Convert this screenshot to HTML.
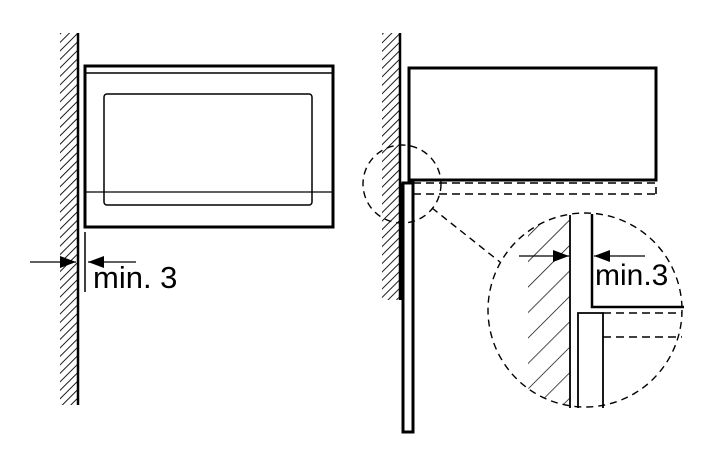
<!DOCTYPE html>
<html><head><meta charset="utf-8"><style>html,body{margin:0;padding:0;background:#fff}svg{display:block}</style></head>
<body>
<svg width="720" height="468" viewBox="0 0 720 468" xmlns="http://www.w3.org/2000/svg">
<defs>
<pattern id="h" width="6" height="6" patternUnits="userSpaceOnUse" patternTransform="rotate(45)">
<line x1="0" y1="0" x2="0" y2="6" stroke="#000" stroke-width="1.8"/>
</pattern>
<pattern id="h2" width="18" height="18" patternUnits="userSpaceOnUse" patternTransform="rotate(45)">
<line x1="0" y1="0" x2="0" y2="18" stroke="#000" stroke-width="1.4"/>
</pattern>
<marker id="b" markerWidth="16" markerHeight="12" refX="16" refY="6" orient="auto" markerUnits="userSpaceOnUse">
<path d="M0,0 L16,6 L0,12 z" fill="#000"/>
</marker>
<clipPath id="c"><circle cx="585" cy="310" r="97"/></clipPath>
</defs>
<g fill="none" stroke="#000">
<rect x="60" y="33" width="18" height="372" fill="url(#h)" stroke="none"/>
<line x1="78" y1="33" x2="78" y2="405" stroke-width="2.5"/>
<rect x="85" y="66" width="248" height="161" stroke-width="3"/>
<line x1="85" y1="73" x2="333" y2="73" stroke-width="1.5"/>
<rect x="104" y="94" width="208" height="111" rx="3" stroke-width="1.5"/>
<line x1="85" y1="192" x2="333" y2="192" stroke-width="1.2"/>
<line x1="85" y1="232" x2="85" y2="292" stroke-width="1.5"/>
<line x1="30" y1="262" x2="76" y2="262" stroke-width="1.3" marker-end="url(#b)"/>
<line x1="136" y1="262" x2="88" y2="262" stroke-width="1.3" marker-end="url(#b)"/>
<rect x="382" y="33" width="18" height="267" fill="url(#h)" stroke="none"/>
<line x1="400" y1="33" x2="400" y2="300" stroke-width="2.5"/>
<rect x="399" y="183" width="5" height="117" fill="#000" stroke="none"/>
<rect x="403" y="183" width="10" height="249" stroke-width="3" fill="#fff"/>
<rect x="409" y="68" width="247" height="112" stroke-width="3"/>
<path d="M413 183 H656 V194 M413 194 H656" stroke-width="1.6" stroke-dasharray="8 5"/>
<circle cx="402" cy="184" r="39" stroke-width="1.4" stroke-dasharray="7 5"/>
<line x1="432" y1="208" x2="500" y2="262" stroke-width="1.4" stroke-dasharray="7 5"/>
<g clip-path="url(#c)">
<rect x="528" y="214" width="42" height="200" fill="url(#h2)" stroke="none"/>
</g>
<circle cx="585" cy="310" r="97" stroke-width="1.4" stroke-dasharray="7 5"/>
<line x1="570" y1="215" x2="570" y2="408" stroke-width="1.8"/>
<path d="M578 408 V313 H603 V408" stroke-width="1.8"/>
<path d="M592 214 V307 H684" stroke-width="2.5"/>
<path d="M603 313 H682 M603 337 H682" stroke-width="1.4" stroke-dasharray="8 5"/>
<line x1="519" y1="256" x2="569" y2="256" stroke-width="1.3" marker-end="url(#b)"/>
<line x1="645" y1="256" x2="594" y2="256" stroke-width="1.3" marker-end="url(#b)"/>
</g>
<g font-family="Liberation Sans, Arial, sans-serif" fill="#000">
<text x="93" y="288" font-size="31">min. 3</text>
<text x="595" y="285" font-size="30">min.3</text>
</g>
</svg>
</body></html>
